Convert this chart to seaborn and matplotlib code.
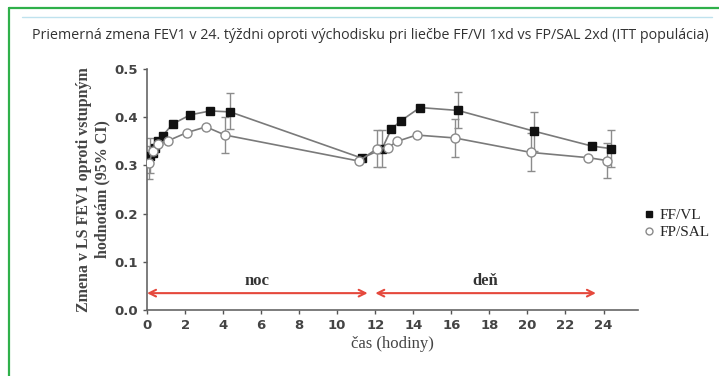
import numpy as np
import pandas as pd
import matplotlib
matplotlib.use("Agg")
import matplotlib.pyplot as plt
from matplotlib.lines import Line2D
import seaborn as sns

# Mean change in FEV1 (L) over 24 h, week 24, with 95% CI where reported
ff_time = [0.17, 0.3, 0.4, 0.56, 0.83, 1.35, 2.28, 3.33, 4.37, 11.3, 12.35,
           12.84, 13.33, 14.35, 16.35, 20.35, 23.4, 24.37]
ff_value = [0.320, 0.325, 0.336, 0.350, 0.362, 0.386, 0.405, 0.413, 0.411,
            0.315, 0.334, 0.375, 0.392, 0.420, 0.414, 0.371, 0.340, 0.335]
ff_lo = [0.285, None, None, None, None, None, None, None, 0.375, None, 0.297,
         None, None, None, 0.377, 0.330, None, 0.297]
ff_hi = [0.357, None, None, None, None, None, None, None, 0.450, None, 0.373,
         None, None, None, 0.453, 0.410, None, 0.373]

fp_time = [0.1, 0.3, 0.6, 1.1, 2.09, 3.1, 4.1, 11.14, 12.1, 12.66, 13.16,
           14.17, 16.17, 20.17, 23.2, 24.2]
fp_value = [0.305, 0.330, 0.345, 0.351, 0.368, 0.380, 0.363, 0.309, 0.335,
            0.337, 0.350, 0.363, 0.357, 0.327, 0.316, 0.310]
fp_lo = [0.272, None, None, None, None, None, 0.326, None, 0.297, None, None,
         None, 0.318, 0.289, None, 0.273]
fp_hi = [0.340, None, None, None, None, None, 0.400, None, 0.373, None, None,
         None, 0.396, 0.367, None, 0.347]

series_names = ["FF/VL", "FP/SAL"]
x_ticks = list(range(0, 25, 2))
y_ticks = [0.0, 0.1, 0.2, 0.3, 0.4, 0.5]
period_labels = ["noc", "deň"]
period_spans = [(0.0, 11.6), (12.0, 23.6)]

title = ("Priemerná zmena FEV1 v 24. týždni oproti východisku pri liečbe "
         "FF/VI 1xd vs FP/SAL 2xd (ITT populácia)")
ylabel = "Zmena v LS FEV1 oproti vstupným\nhodnotám (95% CI)"
xlabel = "čas (hodiny)"

df = pd.concat([
    pd.DataFrame({"čas": ff_time, "zmena": ff_value, "lo": ff_lo, "hi": ff_hi,
                  "liečba": series_names[0]}),
    pd.DataFrame({"čas": fp_time, "zmena": fp_value, "lo": fp_lo, "hi": fp_hi,
                  "liečba": series_names[1]}),
], ignore_index=True)
df["lo"] = pd.to_numeric(df["lo"])
df["hi"] = pd.to_numeric(df["hi"])

sns.set_style("ticks")
plt.rcParams["font.family"] = ["DejaVu Sans"]
serif = ["Liberation Serif", "DejaVu Serif"]

fig = plt.figure(figsize=(7.19, 3.76), dpi=100)
ax = fig.add_axes([0.2045, 0.1755, 0.6825, 0.641])

line_grey = "#7a7a7a"
styles = {
    series_names[0]: dict(marker="s", markersize=6, markerfacecolor="#111111",
                          markeredgecolor="#111111"),
    series_names[1]: dict(marker="o", markersize=6.5, markerfacecolor="white",
                          markeredgecolor="#8a8a8a"),
}

for name in series_names:
    sub = df[df["liečba"] == name]
    ci = sub.dropna(subset=["lo", "hi"])
    ax.errorbar(ci["čas"], ci["zmena"],
                yerr=[ci["zmena"] - ci["lo"], ci["hi"] - ci["zmena"]],
                fmt="none", ecolor="#8c8c8c", elinewidth=1.0, capsize=3,
                capthick=1.0, zorder=2)
    sns.lineplot(data=sub, x="čas", y="zmena", ax=ax, color=line_grey,
                 linewidth=1.2, markeredgewidth=1.0, zorder=3, sort=False,
                 estimator=None, errorbar=None, legend=False, **styles[name])

# Night / day arrows
arrow_y = 0.035
red = "#e5483c"
for (x0, x1), lab in zip(period_spans, period_labels):
    ax.annotate("", xy=(x1, arrow_y), xytext=(x0, arrow_y),
                arrowprops=dict(arrowstyle="<->", color=red, lw=1.5,
                                mutation_scale=12, shrinkA=0, shrinkB=0))
    ax.text((x0 + x1) / 2, arrow_y + 0.008, lab, ha="center", va="bottom",
            fontsize=12, fontweight="bold", family=serif, color="#333333")

ax.set_xlim(0, 25.8)
ax.set_ylim(0, 0.5)
ax.set_xticks(x_ticks)
ax.set_yticks(y_ticks)
ax.set_yticklabels([f"{v:.1f}" for v in y_ticks])
ax.tick_params(axis="both", labelsize=9.5, colors="#555555", length=3,
               width=1.0, direction="out")
for lab in ax.get_xticklabels() + ax.get_yticklabels():
    lab.set_fontweight("bold")
    lab.set_color("#444444")

sns.despine(ax=ax)
for side in ("left", "bottom"):
    ax.spines[side].set_color("#666666")
    ax.spines[side].set_linewidth(1.2)

ax.set_xlabel(xlabel, family=serif, fontsize=12, color="#444444",
              labelpad=3)
ax.set_ylabel(ylabel, family=serif, fontsize=11.5, fontweight="bold",
              color="#444444", labelpad=3, linespacing=1.15)

handles = [Line2D([], [], linestyle="none", **{**styles[n], "markersize": 5})
           for n in series_names]
fig.legend(handles, series_names, loc="center left",
           bbox_to_anchor=(0.877, 0.405), frameon=False, handlelength=0.6,
           handletextpad=0.4, labelspacing=0.2,
           prop={"family": serif, "size": 11})

fig.text(370 / 719, 0.905, title, ha="center", va="center", fontsize=10.3,
         family="Open Sans", color="#333333")

# Page frame
green = "#2fb04a"
fig.add_artist(Line2D([9 / 719, 1.0], [1 - 8 / 376, 1 - 8 / 376],
                      transform=fig.transFigure, color=green, lw=1.6))
fig.add_artist(Line2D([9 / 719, 9 / 719], [0.0, 1 - 8 / 376],
                      transform=fig.transFigure, color=green, lw=1.6))
fig.add_artist(Line2D([22 / 719, 712 / 719], [1 - 17 / 376, 1 - 17 / 376],
                      transform=fig.transFigure, color="#bfe2ee", lw=1.0))

fig.savefig("out.png", dpi=100)
